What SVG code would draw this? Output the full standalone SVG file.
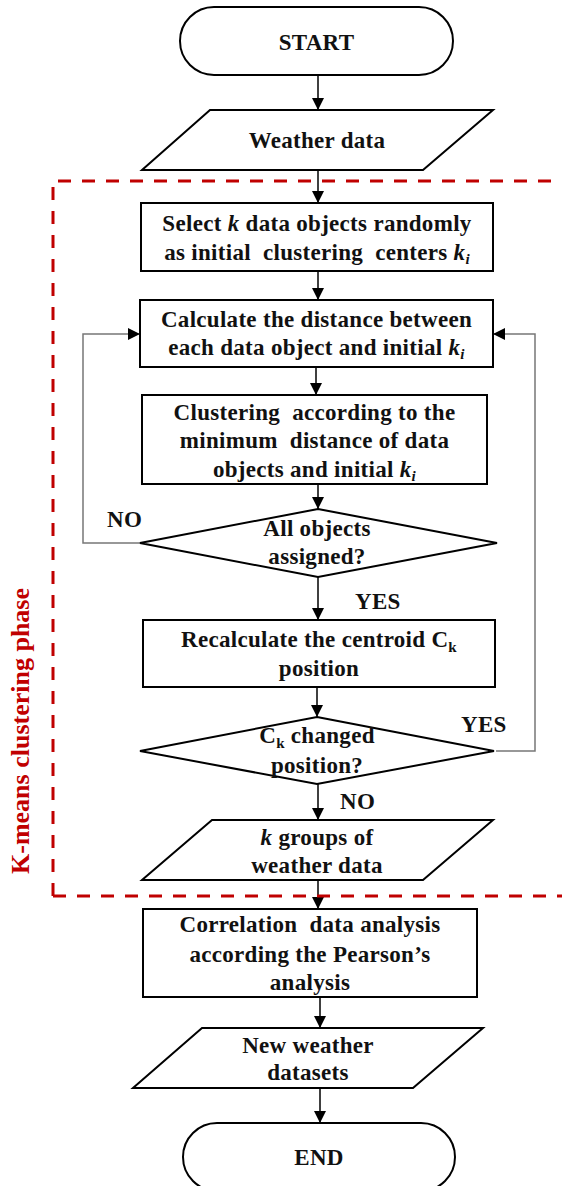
<svg xmlns="http://www.w3.org/2000/svg" width="562" height="1186" viewBox="0 0 562 1186">
  <defs>
    <marker id="arrow" viewBox="0 0 12 12" refX="12" refY="6" markerWidth="12" markerHeight="12" markerUnits="userSpaceOnUse" orient="auto">
      <path d="M0,0 L12,6 L0,12 Z" fill="#000"/>
    </marker>
    <style>
      .shape { fill: #fff; stroke: #000; stroke-width: 2; }
      .txt { font-family: "Liberation Serif", "Times New Roman", serif; font-weight: bold; font-size: 23px; letter-spacing: 0.3px; fill: #111; text-anchor: middle; white-space: pre; }
      .lbl { font-family: "Liberation Serif", "Times New Roman", serif; font-weight: bold; font-size: 23px; letter-spacing: 0.3px; fill: #111; }
      .it { font-style: italic; }
      .sub { font-size: 15px; }
      .conn { fill: none; stroke: #000; stroke-width: 1.5; }
      .loop { fill: none; stroke: #777; stroke-width: 1.5; }
      .phase { fill: none; stroke: #C00000; stroke-width: 3; stroke-dasharray: 13 11; }
      .phase-label { font-family: "Liberation Serif", "Times New Roman", serif; font-weight: bold; font-size: 26px; fill: #C00000; text-anchor: middle; }
    </style>
  </defs>

  <rect width="562" height="1186" fill="#fff"/>

  <!-- connectors -->
  <g id="connectors">
    <line class="conn" x1="318" y1="75" x2="318" y2="110" marker-end="url(#arrow)"/>
    <line class="conn" x1="318" y1="170" x2="318" y2="203" marker-end="url(#arrow)"/>
    <line class="conn" x1="318" y1="271" x2="318" y2="300" marker-end="url(#arrow)"/>
    <line class="conn" x1="316" y1="367" x2="316" y2="395" marker-end="url(#arrow)"/>
    <line class="conn" x1="318" y1="484" x2="318" y2="509" marker-end="url(#arrow)"/>
    <polyline class="loop" points="140,543 83,543 83,334 140,334" marker-end="url(#arrow)"/>
    <line class="conn" x1="318" y1="577" x2="318" y2="620" marker-end="url(#arrow)"/>
    <line class="conn" x1="317" y1="687" x2="317" y2="717" marker-end="url(#arrow)"/>
    <polyline class="loop" points="496,751 535,751 535,334 493,334" marker-end="url(#arrow)"/>
    <line class="conn" x1="318" y1="784" x2="318" y2="820" marker-end="url(#arrow)"/>
    <line class="conn" x1="318" y1="880" x2="318" y2="909" marker-end="url(#arrow)"/>
    <line class="conn" x1="320" y1="997" x2="320" y2="1028" marker-end="url(#arrow)"/>
    <line class="conn" x1="320" y1="1088" x2="320" y2="1123" marker-end="url(#arrow)"/>
  </g>

  <!-- branch labels -->
  <g id="labels">
    <text class="lbl" x="107" y="527">NO</text>
    <text class="lbl" x="355" y="609">YES</text>
    <text class="lbl" x="461" y="732">YES</text>
    <text class="lbl" x="340" y="809">NO</text>
  </g>

  <g id="start">
    <rect class="shape" x="180" y="7" width="273" height="68" rx="34" ry="34"/>
    <text class="txt" x="316.5" y="50">START</text>
  </g>

  <g id="weather-data">
    <polygon class="shape" points="210,110 493,110 423,170 142,170"/>
    <text class="txt" x="317" y="148">Weather data</text>
  </g>

  <g id="select-centers">
    <rect class="shape" x="141" y="203" width="352" height="68"/>
    <text class="txt" x="317" y="231">Select <tspan class="it">k</tspan> data objects randomly</text>
    <text class="txt" x="317" y="260">as initial  clustering  centers <tspan class="it">k</tspan><tspan class="it sub" dy="4">i</tspan></text>
  </g>

  <g id="calculate-distance">
    <rect class="shape" x="140" y="300" width="353" height="67"/>
    <text class="txt" x="316.5" y="327">Calculate the distance between</text>
    <text class="txt" x="316.5" y="355">each data object and initial <tspan class="it">k</tspan><tspan class="it sub" dy="4">i</tspan></text>
  </g>

  <g id="clustering">
    <rect class="shape" x="142" y="395" width="345" height="89"/>
    <text class="txt" x="314.5" y="420">Clustering  according to the</text>
    <text class="txt" x="314.5" y="448">minimum  distance of data</text>
    <text class="txt" x="314.5" y="477">objects and initial <tspan class="it">k</tspan><tspan class="it sub" dy="4">i</tspan></text>
  </g>

  <g id="all-assigned">
    <polygon class="shape" points="318,509 497,543 318,577 140,543"/>
    <text class="txt" x="317" y="536">All objects</text>
    <text class="txt" x="317" y="564">assigned?</text>
  </g>

  <g id="recalculate-centroid">
    <rect class="shape" x="143" y="620" width="352" height="67"/>
    <text class="txt" x="319" y="647">Recalculate the centroid C<tspan class="sub" dy="5">k</tspan></text>
    <text class="txt" x="319" y="676">position</text>
  </g>

  <g id="centroid-changed">
    <polygon class="shape" points="317,717 494,751 317,784 140,751"/>
    <text class="txt" x="317" y="743">C<tspan class="sub" dy="5">k</tspan><tspan dy="-5"> changed</tspan></text>
    <text class="txt" x="317" y="773">position?</text>
  </g>

  <g id="k-groups">
    <polygon class="shape" points="212,820 493,820 423,880 142,880"/>
    <text class="txt" x="317" y="845"><tspan class="it">k</tspan> groups of</text>
    <text class="txt" x="317" y="873">weather data</text>
  </g>

  <g id="correlation">
    <rect class="shape" x="143" y="909" width="334" height="88"/>
    <text class="txt" x="310" y="932">Correlation  data analysis</text>
    <text class="txt" x="310" y="962">according the Pearson’s</text>
    <text class="txt" x="310" y="990">analysis</text>
  </g>

  <g id="new-datasets">
    <polygon class="shape" points="202,1028 483,1028 413,1088 133,1088"/>
    <text class="txt" x="308" y="1053">New weather</text>
    <text class="txt" x="308" y="1080">datasets</text>
  </g>

  <g id="end">
    <rect class="shape" x="183" y="1123" width="272" height="68" rx="34" ry="34"/>
    <text class="txt" x="319" y="1165">END</text>
  </g>

  <!-- K-means phase boundary -->
  <g id="kmeans-phase">
    <path class="phase" d="M53,896 L53,181 L600,181 M53,896 L600,896"/>
    <text class="phase-label" x="29" y="731" transform="rotate(-90 29 731)">K-means clustering phase</text>
  </g>
</svg>
